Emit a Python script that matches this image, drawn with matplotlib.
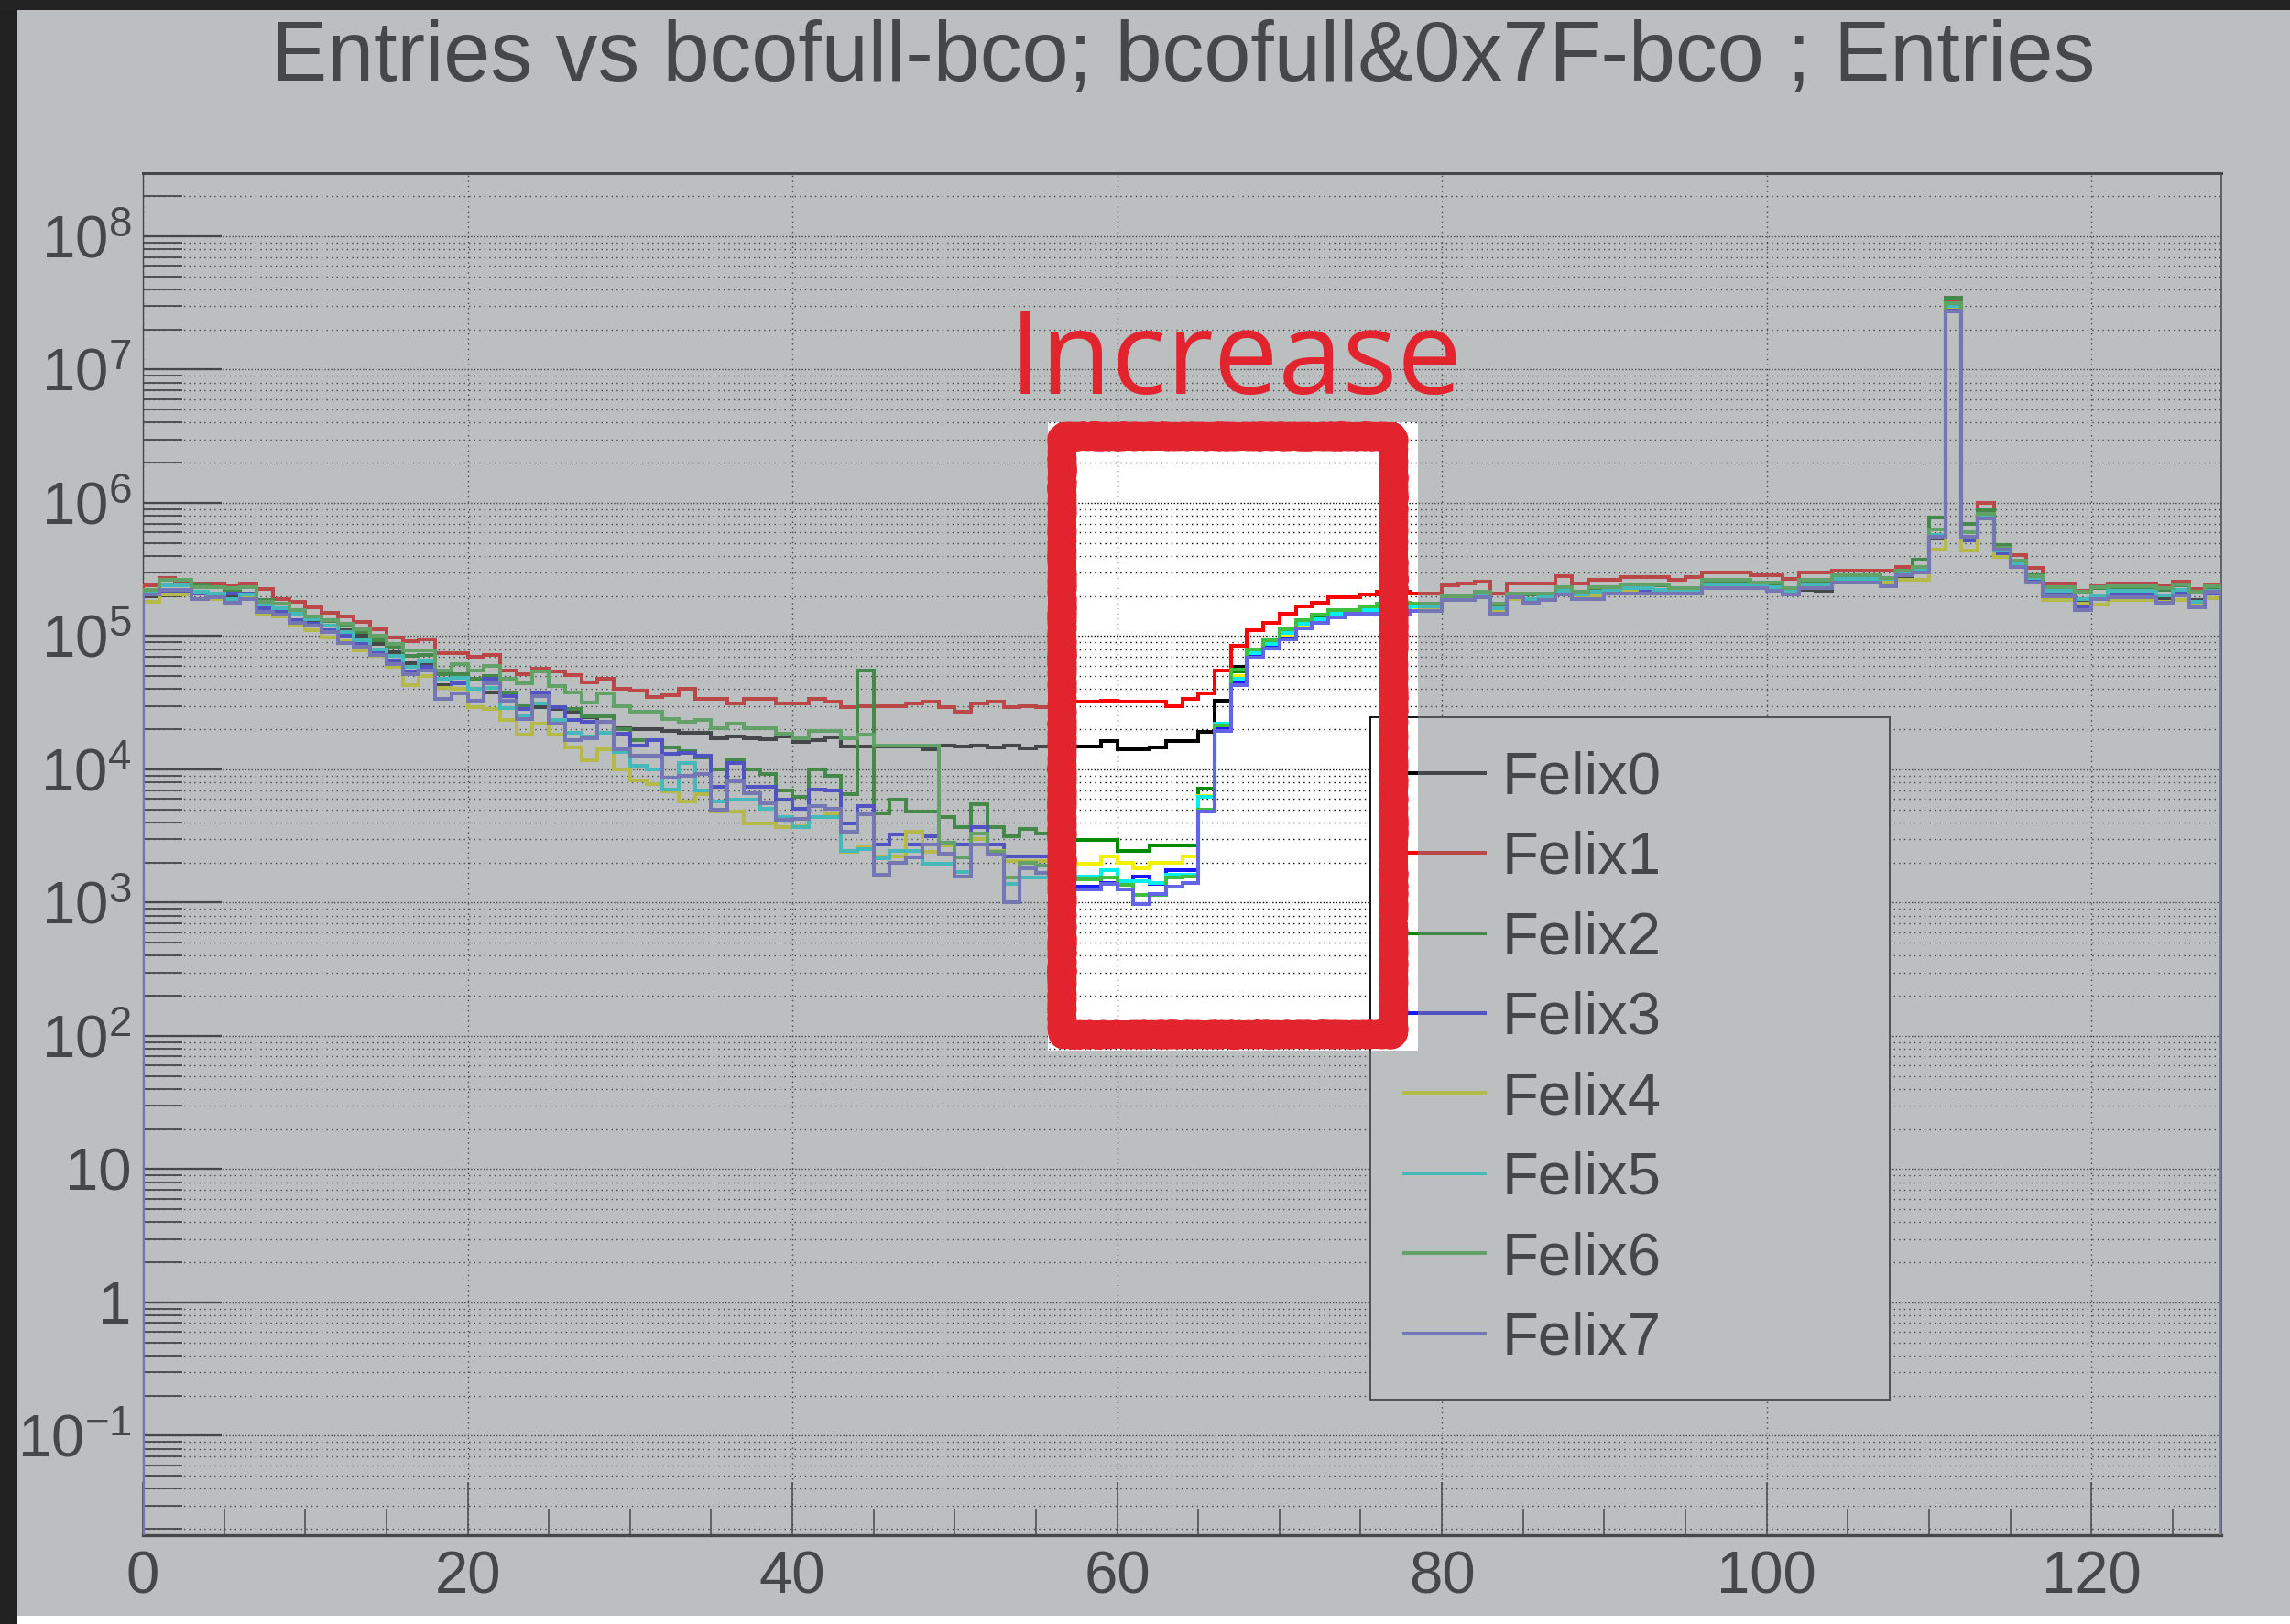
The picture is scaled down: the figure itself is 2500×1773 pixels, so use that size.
import numpy as np
import matplotlib
matplotlib.use("Agg")
import matplotlib.pyplot as plt
from matplotlib.path import Path
from matplotlib.patches import PathPatch, Rectangle
from matplotlib.lines import Line2D
from matplotlib.ticker import FixedLocator, FixedFormatter, NullFormatter, LogLocator, MultipleLocator

plt.rcParams['font.family'] = ['Liberation Sans', 'DejaVu Sans']
plt.rcParams['mathtext.fontset'] = 'custom'
plt.rcParams['mathtext.rm'] = 'Liberation Sans'
plt.rcParams['mathtext.it'] = 'Liberation Sans:italic'
plt.rcParams['mathtext.bf'] = 'Liberation Sans:bold'

# ---------------- data ----------------
title = "Entries vs bcofull-bco; bcofull&0x7F-bco ; Entries"
x_min, x_max, n_bins = 0, 128, 128
series_names = ["Felix0", "Felix1", "Felix2", "Felix3", "Felix4", "Felix5", "Felix6", "Felix7"]
series_colors = ["#000000", "#ff0000", "#008a00", "#1a1aff", "#f2f200", "#00f0f0", "#3fbf3f", "#6464e6"]

felix0 = [2.0e5, 2.14e5, 2.14e5, 2.09e5, 2.09e5, 2.0e5, 2.09e5, 1.74e5, 1.62e5, 1.45e5,
          1.32e5, 1.2e5, 1.1e5, 1.0e5, 8.7e4, 7.6e4, 6.3e4, 6.3e4, 4.3e4, 4.4e4,
          4.0e4, 3.8e4, 3.3e4, 2.95e4, 2.95e4, 2.82e4, 2.7e4, 2.45e4, 2.26e4, 2.04e4,
          2.0e4, 2.0e4, 1.95e4, 1.88e4, 1.88e4, 1.71e4, 1.77e4, 1.7e4, 1.68e4, 1.77e4,
          1.61e4, 1.65e4, 1.74e4, 1.48e4, 1.48e4, 1.48e4, 1.48e4, 1.48e4, 1.41e4, 1.51e4,
          1.48e4, 1.51e4, 1.46e4, 1.51e4, 1.43e4, 1.48e4, 1.48e4, 1.48e4, 1.48e4, 1.62e4,
          1.41e4, 1.41e4, 1.45e4, 1.62e4, 1.62e4, 1.91e4, 3.27e4, 5.9e4, 7.9e4, 9.4e4,
          1.1e5, 1.26e5, 1.38e5, 1.48e5, 1.55e5, 1.58e5, 1.62e5, 1.62e5, 1.62e5, 1.62e5,
          1.91e5, 1.91e5, 2.0e5, 1.58e5, 1.95e5, 1.86e5, 1.95e5, 2.09e5, 1.95e5, 2.04e5,
          2.14e5, 2.19e5, 2.19e5, 2.19e5, 2.14e5, 2.14e5, 2.4e5, 2.34e5, 2.34e5, 2.34e5,
          2.29e5, 2.09e5, 2.24e5, 2.19e5, 2.57e5, 2.57e5, 2.57e5, 2.57e5, 2.82e5, 3.02e5,
          5.5e5, 2.95e7, 5.25e5, 7.9e5, 3.9e5, 3.47e5, 2.63e5, 2.09e5, 2.09e5, 1.78e5,
          2.0e5, 2.09e5, 2.09e5, 2.09e5, 1.91e5, 2.14e5, 1.86e5, 2.09e5]

felix1 = [2.4e5, 2.75e5, 2.5e5, 2.5e5, 2.5e5, 2.35e5, 2.5e5, 2.25e5, 1.9e5, 1.8e5,
          1.65e5, 1.5e5, 1.4e5, 1.27e5, 1.12e5, 9.8e4, 9.1e4, 9.5e4, 7.4e4, 7.4e4,
          7.0e4, 7.2e4, 5.5e4, 5.2e4, 5.7e4, 5.4e4, 5.1e4, 4.5e4, 4.8e4, 4.0e4,
          3.9e4, 3.5e4, 3.6e4, 4.0e4, 3.4e4, 3.4e4, 3.1e4, 3.4e4, 3.4e4, 3.1e4,
          3.1e4, 3.4e4, 3.2e4, 2.95e4, 3.0e4, 3.0e4, 3.0e4, 3.1e4, 3.2e4, 2.95e4,
          2.7e4, 3.1e4, 3.2e4, 2.95e4, 3.0e4, 2.95e4, 3.1e4, 3.2e4, 3.2e4, 3.3e4,
          3.2e4, 3.2e4, 3.2e4, 3.0e4, 3.4e4, 3.7e4, 5.5e4, 8.5e4, 1.1e5, 1.26e5,
          1.48e5, 1.68e5, 1.78e5, 1.97e5, 1.97e5, 2.05e5, 2.15e5, 2.15e5, 2.1e5, 2.1e5,
          2.4e5, 2.47e5, 2.55e5, 2.1e5, 2.47e5, 2.47e5, 2.47e5, 2.8e5, 2.5e5, 2.66e5,
          2.66e5, 2.77e5, 2.77e5, 2.77e5, 2.66e5, 2.77e5, 3.0e5, 3.0e5, 3.0e5, 2.85e5,
          2.85e5, 2.7e5, 3.0e5, 3.0e5, 3.1e5, 3.1e5, 3.1e5, 3.1e5, 3.3e5, 3.3e5,
          5.6e5, 3.2e7, 6.0e5, 1.0e6, 4.6e5, 4.05e5, 3.25e5, 2.47e5, 2.47e5, 2.2e5,
          2.37e5, 2.47e5, 2.47e5, 2.47e5, 2.37e5, 2.57e5, 2.25e5, 2.43e5]

felix2 = [2.19e5, 2.63e5, 2.63e5, 2.4e5, 2.34e5, 2.24e5, 2.34e5, 1.86e5, 1.74e5, 1.55e5,
          1.41e5, 1.29e5, 1.2e5, 1.07e5, 9.3e4, 8.3e4, 7.1e4, 7.2e4, 5.2e4, 5.2e4,
          4.8e4, 5.0e4, 3.8e4, 3.0e4, 3.55e4, 2.95e4, 2.82e4, 2.51e4, 2.51e4, 2.0e4,
          1.66e4, 1.66e4, 1.45e4, 1.38e4, 1.23e4, 1.0e4, 1.17e4, 1.0e4, 9.3e3, 6.9e3,
          6.2e3, 1.0e4, 9.0e3, 6.5e3, 5.5e4, 4.7e3, 5.9e3, 4.8e3, 4.8e3, 4.4e3,
          3.7e3, 5.5e3, 3.7e3, 3.16e3, 3.6e3, 3.3e3, 3.4e3, 2.95e3, 2.95e3, 2.95e3,
          2.45e3, 2.45e3, 2.7e3, 2.7e3, 2.7e3, 7.2e3, 2.19e4, 5.4e4, 7.8e4, 9.1e4,
          1.1e5, 1.32e5, 1.41e5, 1.55e5, 1.55e5, 1.66e5, 1.74e5, 1.74e5, 1.7e5, 1.7e5,
          2.0e5, 2.0e5, 2.09e5, 1.66e5, 2.04e5, 2.04e5, 2.04e5, 2.29e5, 2.09e5, 2.29e5,
          2.29e5, 2.4e5, 2.4e5, 2.4e5, 2.24e5, 2.24e5, 2.57e5, 2.57e5, 2.57e5, 2.45e5,
          2.45e5, 2.24e5, 2.57e5, 2.57e5, 2.82e5, 2.82e5, 2.82e5, 2.7e5, 3.1e5, 3.77e5,
          7.8e5, 3.47e7, 7.0e5, 8.85e5, 4.8e5, 3.7e5, 2.88e5, 2.34e5, 2.34e5, 2.14e5,
          2.29e5, 2.34e5, 2.34e5, 2.34e5, 2.24e5, 2.4e5, 2.14e5, 2.34e5]

felix3 = [2.14e5, 2.14e5, 2.14e5, 2.09e5, 2.09e5, 2.09e5, 2.09e5, 1.62e5, 1.55e5, 1.32e5,
          1.23e5, 1.1e5, 1.0e5, 8.7e4, 7.6e4, 6.5e4, 5.4e4, 5.9e4, 4.1e4, 4.4e4,
          4.0e4, 4.8e4, 3.55e4, 2.82e4, 3.8e4, 2.95e4, 2.34e4, 2.29e4, 2.29e4, 1.84e4,
          1.51e4, 1.66e4, 1.3e4, 1.32e4, 1.26e4, 7.4e3, 1.12e4, 7.4e3, 7.4e3, 5.9e3,
          5.1e3, 7.1e3, 6.9e3, 3.9e3, 5.3e3, 2.75e3, 3.24e3, 2.75e3, 3.16e3, 2.75e3,
          2.75e3, 3.7e3, 2.75e3, 2.24e3, 2.24e3, 2.24e3, 2.0e3, 1.32e3, 1.32e3, 1.41e3,
          1.35e3, 1.58e3, 1.38e3, 1.74e3, 1.74e3, 4.8e3, 2.0e4, 4.4e4, 7.1e4, 8.3e4,
          9.8e4, 1.16e5, 1.29e5, 1.41e5, 1.51e5, 1.51e5, 1.48e5, 1.48e5, 1.58e5, 1.62e5,
          1.91e5, 1.91e5, 2.0e5, 1.51e5, 2.0e5, 1.86e5, 1.95e5, 2.14e5, 2.0e5, 2.0e5,
          2.14e5, 2.19e5, 2.19e5, 2.14e5, 2.14e5, 2.14e5, 2.4e5, 2.4e5, 2.4e5, 2.34e5,
          2.29e5, 2.09e5, 2.34e5, 2.34e5, 2.63e5, 2.63e5, 2.63e5, 2.63e5, 2.88e5, 3.1e5,
          5.6e5, 2.88e7, 5.25e5, 7.8e5, 4.2e5, 3.4e5, 2.57e5, 2.04e5, 2.04e5, 1.66e5,
          1.95e5, 2.04e5, 2.04e5, 2.04e5, 1.82e5, 2.09e5, 1.78e5, 2.09e5]

felix4 = [1.82e5, 2.04e5, 2.04e5, 1.91e5, 1.91e5, 1.86e5, 1.97e5, 1.44e5, 1.4e5, 1.2e5,
          1.1e5, 9.7e4, 9.1e4, 7.8e4, 7.1e4, 5.9e4, 4.3e4, 5.0e4, 4.1e4, 4.0e4,
          2.95e4, 2.82e4, 2.34e4, 1.82e4, 2.19e4, 1.82e4, 1.45e4, 1.17e4, 1.41e4, 1.0e4,
          8.3e3, 7.7e3, 6.8e3, 5.75e3, 6.5e3, 4.8e3, 4.8e3, 3.9e3, 3.9e3, 3.7e3,
          3.76e3, 4.4e3, 4.7e3, 2.4e3, 2.63e3, 2.24e3, 2.24e3, 3.4e3, 2.4e3, 2.7e3,
          2.19e3, 3.0e3, 2.45e3, 2.04e3, 2.04e3, 2.04e3, 2.0e3, 1.95e3, 1.95e3, 2.24e3,
          2.0e3, 1.82e3, 2.0e3, 2.0e3, 2.24e3, 6.3e3, 2.14e4, 5.0e4, 7.4e4, 8.7e4,
          1.02e5, 1.2e5, 1.32e5, 1.45e5, 1.51e5, 1.55e5, 1.58e5, 1.58e5, 1.58e5, 1.58e5,
          1.86e5, 1.86e5, 1.95e5, 1.55e5, 1.91e5, 1.82e5, 1.91e5, 2.04e5, 2.0e5, 2.0e5,
          2.09e5, 2.14e5, 2.09e5, 2.09e5, 2.09e5, 2.09e5, 2.34e5, 2.34e5, 2.29e5, 2.34e5,
          2.24e5, 2.09e5, 2.4e5, 2.29e5, 2.51e5, 2.51e5, 2.51e5, 2.51e5, 2.63e5, 2.63e5,
          4.47e5, 2.95e7, 4.37e5, 7.8e5, 3.9e5, 3.3e5, 2.51e5, 1.86e5, 1.86e5, 1.74e5,
          1.73e5, 1.86e5, 1.86e5, 1.86e5, 1.82e5, 1.86e5, 1.78e5, 1.92e5]

felix5 = [2.14e5, 2.4e5, 2.4e5, 2.14e5, 2.09e5, 1.91e5, 2.04e5, 1.73e5, 1.62e5, 1.48e5,
          1.35e5, 1.2e5, 1.07e5, 9.3e4, 7.9e4, 7.1e4, 5.9e4, 6.5e4, 4.8e4, 4.9e4,
          4.0e4, 4.1e4, 2.88e4, 2.51e4, 3.1e4, 2.34e4, 1.88e4, 1.78e4, 1.88e4, 1.35e4,
          1.07e4, 1.0e4, 7.1e3, 1.12e4, 6.9e3, 5.75e3, 5.9e3, 5.9e3, 5.1e3, 4.4e3,
          3.7e3, 4.37e3, 4.37e3, 2.45e3, 2.54e3, 2.14e3, 2.45e3, 2.45e3, 1.95e3, 1.95e3,
          1.7e3, 3.3e3, 2.4e3, 1.38e3, 1.55e3, 1.55e3, 1.48e3, 1.58e3, 1.58e3, 1.74e3,
          1.45e3, 1.45e3, 1.41e3, 1.62e3, 1.62e3, 6.2e3, 2.19e4, 4.8e4, 7.4e4, 8.7e4,
          1.05e5, 1.23e5, 1.35e5, 1.48e5, 1.55e5, 1.58e5, 1.62e5, 1.62e5, 1.66e5, 1.66e5,
          1.95e5, 1.95e5, 2.04e5, 1.62e5, 2.0e5, 1.91e5, 2.0e5, 2.19e5, 2.04e5, 2.14e5,
          2.24e5, 2.29e5, 2.29e5, 2.24e5, 2.19e5, 2.19e5, 2.45e5, 2.45e5, 2.45e5, 2.4e5,
          2.34e5, 2.14e5, 2.45e5, 2.45e5, 2.7e5, 2.7e5, 2.7e5, 2.7e5, 2.95e5, 3.16e5,
          5.75e5, 3.02e7, 5.6e5, 7.9e5, 4.37e5, 3.47e5, 2.75e5, 2.19e5, 2.19e5, 1.91e5,
          2.02e5, 2.19e5, 2.19e5, 2.19e5, 2.02e5, 2.24e5, 1.82e5, 2.19e5]

felix6 = [2.24e5, 2.63e5, 2.63e5, 2.34e5, 2.34e5, 2.29e5, 2.34e5, 1.82e5, 1.74e5, 1.58e5,
          1.41e5, 1.32e5, 1.23e5, 1.12e5, 1.0e5, 8.7e4, 7.8e4, 7.8e4, 5.5e4, 6.2e4,
          5.5e4, 6.0e4, 4.8e4, 4.4e4, 5.4e4, 4.2e4, 3.8e4, 3.16e4, 3.7e4, 3.0e4,
          2.72e4, 2.72e4, 2.4e4, 2.26e4, 2.34e4, 2.04e4, 2.19e4, 2.04e4, 2.04e4, 1.84e4,
          1.7e4, 1.95e4, 1.95e4, 1.71e4, 1.82e4, 1.51e4, 1.51e4, 1.51e4, 1.51e4, 2.82e3,
          2.19e3, 3.31e3, 2.4e3, 1.55e3, 2.0e3, 1.91e3, 1.66e3, 1.5e3, 1.5e3, 1.55e3,
          1.35e3, 1.15e3, 1.15e3, 1.55e3, 1.58e3, 5.0e3, 2.14e4, 5.6e4, 7.9e4, 9.3e4,
          1.12e5, 1.32e5, 1.45e5, 1.58e5, 1.58e5, 1.66e5, 1.74e5, 1.78e5, 1.74e5, 1.74e5,
          2.0e5, 2.0e5, 2.14e5, 1.74e5, 2.09e5, 2.09e5, 2.09e5, 2.34e5, 2.14e5, 2.34e5,
          2.34e5, 2.45e5, 2.45e5, 2.45e5, 2.29e5, 2.29e5, 2.63e5, 2.63e5, 2.63e5, 2.51e5,
          2.51e5, 2.29e5, 2.63e5, 2.63e5, 2.88e5, 2.88e5, 2.88e5, 2.75e5, 3.1e5, 3.3e5,
          6.3e5, 3.16e7, 6.0e5, 8.3e5, 4.57e5, 3.7e5, 2.82e5, 2.34e5, 2.34e5, 2.14e5,
          2.34e5, 2.37e5, 2.37e5, 2.37e5, 2.29e5, 2.45e5, 2.14e5, 2.37e5]

felix7 = [2.04e5, 2.24e5, 2.24e5, 1.91e5, 1.97e5, 1.78e5, 1.91e5, 1.51e5, 1.44e5, 1.26e5,
          1.2e5, 1.07e5, 8.9e4, 8.3e4, 7.2e4, 6.2e4, 5.2e4, 5.5e4, 3.4e4, 3.7e4,
          3.27e4, 4.4e4, 3.27e4, 2.4e4, 3.55e4, 2.19e4, 1.66e4, 1.7e4, 2.26e4, 1.41e4,
          1.26e4, 1.26e4, 8.7e3, 9.0e3, 9.2e3, 5.0e3, 8.1e3, 6.6e3, 5.6e3, 4.17e3,
          4.27e3, 5.3e3, 5.1e3, 3.4e3, 4.57e3, 1.62e3, 2.0e3, 2.19e3, 2.75e3, 2.34e3,
          1.58e3, 2.75e3, 2.29e3, 1.0e3, 1.82e3, 1.66e3, 1.41e3, 1.26e3, 1.26e3, 1.38e3,
          1.26e3, 9.8e2, 1.17e3, 1.32e3, 1.41e3, 4.8e3, 1.95e4, 4.27e4, 6.9e4, 8.1e4,
          9.5e4, 1.15e5, 1.26e5, 1.38e5, 1.48e5, 1.48e5, 1.45e5, 1.48e5, 1.55e5, 1.55e5,
          1.86e5, 1.86e5, 1.95e5, 1.48e5, 1.95e5, 1.78e5, 1.86e5, 2.04e5, 1.91e5, 1.91e5,
          2.09e5, 2.09e5, 2.09e5, 2.09e5, 2.09e5, 2.09e5, 2.29e5, 2.29e5, 2.29e5, 2.29e5,
          2.19e5, 2.04e5, 2.29e5, 2.29e5, 2.51e5, 2.51e5, 2.51e5, 2.37e5, 2.85e5, 3.0e5,
          5.6e5, 2.75e7, 5.6e5, 7.6e5, 4.47e5, 3.3e5, 2.51e5, 2.0e5, 2.0e5, 1.58e5,
          1.91e5, 1.97e5, 1.97e5, 1.97e5, 1.78e5, 2.02e5, 1.64e5, 2.14e5]

series_values = [felix0, felix1, felix2, felix3, felix4, felix5, felix6, felix7]

x_tick_values = [0, 20, 40, 60, 80, 100, 120]
x_tick_labels = ["0", "20", "40", "60", "80", "100", "120"]
y_tick_values = [1e-1, 1e0, 1e1, 1e2, 1e3, 1e4, 1e5, 1e6, 1e7, 1e8]
y_tick_labels = [r"$10^{\mathrm{-}1}$", "1", "10", r"$10^{2}$", r"$10^{3}$", r"$10^{4}$",
                 r"$10^{5}$", r"$10^{6}$", r"$10^{7}$", r"$10^{8}$"]
y_limits = (10 ** -1.746, 10 ** 8.474)
annotation_text = "Increase"

# ---------------- figure ----------------
W, H = 2500, 1773
fig = plt.figure(figsize=(W / 100, H / 100), dpi=100)
fig.patch.set_facecolor("white")

ax = fig.add_axes([156 / W, 1 - 1676 / H, (2425 - 156) / W, (1676 - 189) / H])
ax.set_facecolor("white")
ax.set_yscale("log")

edges = np.linspace(x_min, x_max, n_bins + 1)
line_w = 2.9
for name, color, vals in zip(series_names, series_colors, series_values):
    ax.stairs(vals, edges, baseline=1e-3, color=color, linewidth=line_w, zorder=3)

ax.set_xlim(x_min, x_max)
ax.set_ylim(*y_limits)

ax.yaxis.set_major_locator(FixedLocator(y_tick_values))
ax.yaxis.set_major_formatter(FixedFormatter(y_tick_labels))
ax.yaxis.set_minor_locator(LogLocator(base=10, subs=np.arange(2, 10), numticks=200))
ax.yaxis.set_minor_formatter(NullFormatter())
ax.xaxis.set_major_locator(FixedLocator(x_tick_values))
ax.xaxis.set_major_formatter(FixedFormatter(x_tick_labels))
ax.xaxis.set_minor_locator(MultipleLocator(5))

ax.tick_params(axis="y", which="major", direction="in", length=62, width=1.6,
               left=True, right=False, pad=9, labelsize=47, color="black", labelcolor="black")
ax.tick_params(axis="y", which="minor", direction="in", length=31, width=1.3,
               left=True, right=False)
ax.tick_params(axis="x", which="major", direction="in", length=42, width=1.1,
               bottom=True, top=False, pad=12, labelsize=47, color="black", labelcolor="black")
ax.tick_params(axis="x", which="minor", direction="in", length=21, width=1.1,
               bottom=True, top=False)

ax.set_axisbelow(True)
ax.grid(True, which="major", axis="y", color="black", linestyle=(0, (1, 1.5)), linewidth=1.0)
ax.grid(True, which="minor", axis="y", color="black", linestyle=(0, (1, 3)), linewidth=1.0)
ax.grid(True, which="major", axis="x", color="black", linestyle=(0, (1, 3)), linewidth=1.0)

for side, lw in (("top", 2.2), ("bottom", 2.4), ("left", 1.0), ("right", 1.1)):
    ax.spines[side].set_color("black")
    ax.spines[side].set_linewidth(lw)

fig.text(1292 / W, 1 - 88 / H, title, ha="center", va="baseline", fontsize=66, color="black")

handles = [Line2D([], [], color=c, linewidth=line_w) for c in series_colors]
leg = ax.legend(handles, series_names, loc="upper left",
                bbox_to_anchor=(1496 / W, 1 - 783 / H, (2063 - 1496) / W, 0.0),
                bbox_transform=fig.transFigure, mode="expand", borderaxespad=0,
                fontsize=47, frameon=True, fancybox=False, facecolor="white",
                edgecolor="black", framealpha=1, handlelength=1.35, handletextpad=0.29,
                labelspacing=0.42, borderpad=0.56)
leg.get_frame().set_linewidth(1.3)
leg.set_zorder(6)
for t in leg.get_texts():
    t.set_color("black")

# ---------------- dimming overlay with highlighted hole ----------------
hx0, hx1 = 1144 / W, 1548 / W
hy0, hy1 = 1 - 1147 / H, 1 - 461 / H
verts = [(0, 0), (1, 0), (1, 1), (0, 1), (0, 0),
         (hx0, hy0), (hx0, hy1), (hx1, hy1), (hx1, hy0), (hx0, hy0)]
codes = [Path.MOVETO, Path.LINETO, Path.LINETO, Path.LINETO, Path.CLOSEPOLY] * 2
overlay = PathPatch(Path(verts, codes), transform=fig.transFigure,
                    facecolor=(130 / 255, 136 / 255, 138 / 255, 0.537),
                    edgecolor="none", zorder=10)
fig.add_artist(overlay)

# red hand-drawn box
rx0, rx1 = 1159 / W, 1521 / W
ry0, ry1 = 1 - 1129 / H, 1 - 476 / H
box = Rectangle((rx0, ry0), rx1 - rx0, ry1 - ry0, transform=fig.transFigure,
                facecolor="none", edgecolor="#e2242f", linewidth=21.0, joinstyle="round",
                zorder=11)
box.set_sketch_params(scale=1.5, length=3, randomness=2)
fig.add_artist(box)

fig.text(1102 / W, 1 - 430 / H, annotation_text, ha="left", va="baseline",
         fontsize=90.5, family=["Open Sans", "DejaVu Sans"], color="#e2242f", zorder=12)

# screenshot borders
fig.add_artist(Rectangle((0, 0), 1, 9 / H, transform=fig.transFigure,
                         facecolor="white", edgecolor="none", zorder=19))
fig.add_artist(Rectangle((0, 0), 19 / W, 1, transform=fig.transFigure,
                         facecolor="#212121", edgecolor="none", zorder=20))
fig.add_artist(Rectangle((0, 1 - 11 / H), 1, 11 / H, transform=fig.transFigure,
                         facecolor="#232323", edgecolor="none", zorder=20))

fig.savefig("out.png", dpi=100)
